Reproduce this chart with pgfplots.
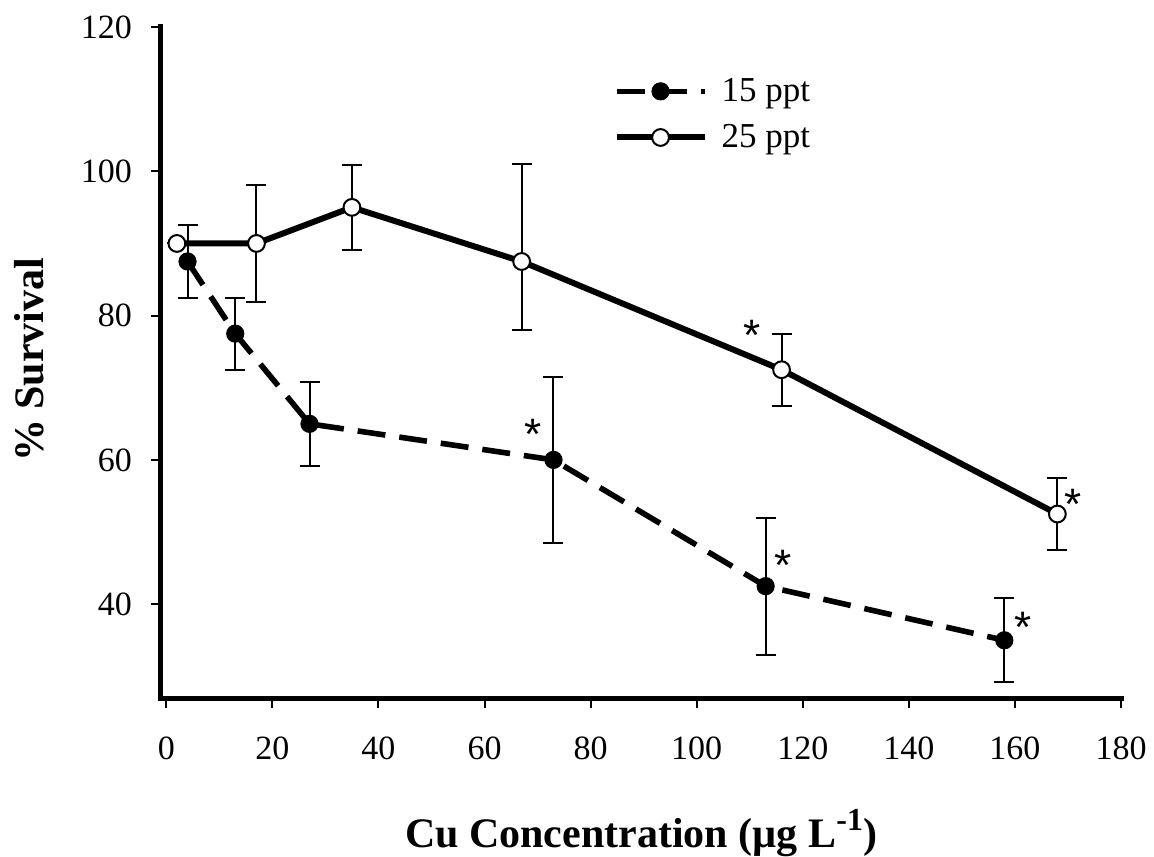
\documentclass[border=0pt]{standalone}
\usepackage{pgfplots}
\usepackage{pgfplotstable}
\pgfplotsset{compat=1.18}
\usepackage{fontspec}
\setmainfont{Liberation Serif}
\newfontfamily\astfont{Liberation Sans}

\pgfplotstableread{
x y ep em
4 87.5 5 5
13 77.5 5 5
27 65 5.8 5.8
73 60 11.5 11.5
113 42.5 9.5 9.5
158 35 5.8 5.8
}\lowsal
\pgfplotstableread{
x y ep em
2 90 0 0
17 90 8.1 8.1
35 95 5.9 5.9
67 87.5 13.5 9.5
116 72.5 5 5
168 52.5 5 5
}\highsal

\begin{document}
\begin{tikzpicture}
\useasboundingbox (-80.5pt,-79pt) rectangle (496.5pt,349pt);
\begin{axis}[
  at={(0pt,0pt)}, anchor=south west,
  scale only axis, width=480pt, height=335.5pt,
  xmin=-1, xmax=180, ymin=27, ymax=120,
  clip=false,
  axis lines*=left,
  axis line style={-, line width=2.5pt, line cap=rect},
  xtick={0,20,...,180}, ytick={40,60,...,120},
  tick align=outside,
  major tick length=5pt,
  tick style={line width=1pt, black},
  ticklabel style={font=\fontsize{17}{20}\selectfont},
  xticklabel style={yshift=-11pt},
  yticklabel style={xshift=-6pt},
  /pgf/number format/assume math mode=true,
  xlabel={Cu Concentration (µg L\raisebox{0.42em}{\fontsize{16}{16}\selectfont\bfseries -1})},
  xlabel style={at={(rel axis cs:0.5,-0.2235)}, anchor=base, font=\fontsize{21}{25}\selectfont\bfseries},
  ylabel={\% Survival},
  ylabel style={at={(rel axis cs:-0.1229,0.504)}, anchor=base, font=\fontsize{21}{25}\selectfont\bfseries},
  legend style={at={(axis cs:84.25,113.5)}, anchor=north west, draw=none, fill=none,
    font=\fontsize{17.5}{21}\selectfont, row sep=6pt, inner sep=0pt,
    cells={anchor=west}},
  legend image code/.code={\draw[mark repeat=2,mark phase=2,#1] plot coordinates {(0pt,0pt) (22pt,0pt) (44pt,0pt)}; \path (0pt,0pt) (49pt,0pt);},
]
% error bars
\addplot[forget plot, draw=none, mark=none,
  error bars/.cd, y dir=both, y explicit,
  error bar style={draw=black, line width=1pt, solid},
  error mark options={draw=black, rotate=90, mark size=5pt, line width=1pt, solid}]
  table[x=x, y=y, y error plus=ep, y error minus=em] {\lowsal};
\addplot[forget plot, draw=none, mark=none,
  error bars/.cd, y dir=both, y explicit,
  error bar style={draw=black, line width=1pt, solid},
  error mark options={draw=black, rotate=90, mark size=5pt, line width=1pt, solid}]
  table[x=x, y=y, y error plus=ep, y error minus=em] {\highsal};
% lines
\addplot[black, line width=2.8pt, dash pattern=on 14pt off 7pt,
  mark=*, mark size=4.3pt, mark options={solid, fill=black, line width=0.5pt}]
  table[x=x, y=y] {\lowsal};
\addlegendentry{15 ppt}
\addplot[black, line width=3pt,
  mark=*, mark size=4.2pt, mark options={solid, fill=white, draw=black, line width=1pt}]
  table[x=x, y=y] {\highsal};
\addlegendentry{25 ppt}
% significance asterisks
\node[font=\astfont\fontsize{22}{22}\selectfont, inner sep=0pt, anchor=north] at (axis cs:69.2,65.7) {*};
\node[font=\astfont\fontsize{22}{22}\selectfont, inner sep=0pt, anchor=north] at (axis cs:110.4,79.45) {*};
\node[font=\astfont\fontsize{22}{22}\selectfont, inner sep=0pt, anchor=north] at (axis cs:170.9,56.0) {*};
\node[font=\astfont\fontsize{22}{22}\selectfont, inner sep=0pt, anchor=north] at (axis cs:161.5,39.0) {*};
\node[font=\astfont\fontsize{22}{22}\selectfont, inner sep=0pt, anchor=north] at (axis cs:116.3,47.6) {*};
\end{axis}
\end{tikzpicture}
\end{document}
